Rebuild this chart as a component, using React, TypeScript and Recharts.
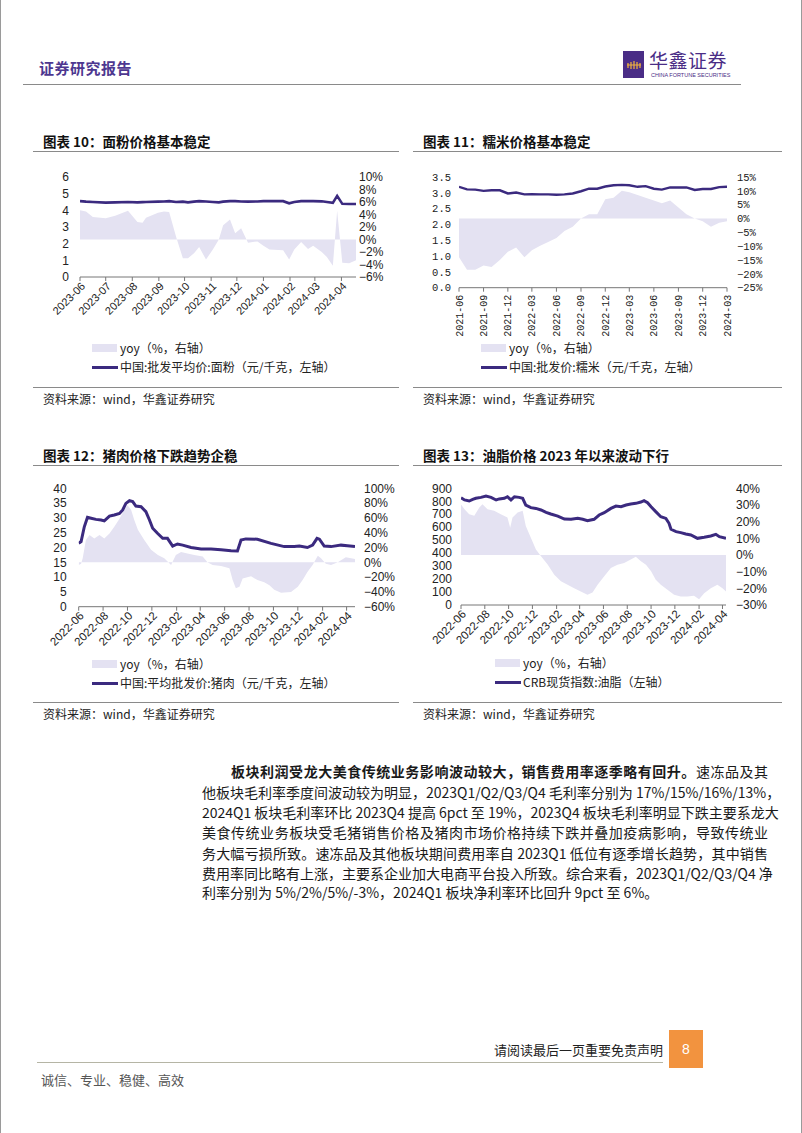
import React from "react";
import { ComposedChart, Area, Line, XAxis, YAxis } from "recharts";

// ---------- 图表10 面粉 ----------
const flourDates = [
  "2023-06-01", "2023-06-08", "2023-06-16", "2023-07-01", "2023-07-12", "2023-07-27",
  "2023-08-07", "2023-08-13", "2023-08-17", "2023-08-31", "2023-09-07", "2023-09-13",
  "2023-09-21", "2023-09-29", "2023-10-05", "2023-10-12", "2023-10-18", "2023-10-26",
  "2023-11-03", "2023-11-10", "2023-11-15", "2023-11-23", "2023-11-29", "2023-12-06",
  "2023-12-14", "2023-12-25", "2024-01-01", "2024-01-08", "2024-01-24", "2024-01-31",
  "2024-02-06", "2024-02-14", "2024-02-22", "2024-02-28", "2024-03-09", "2024-03-15",
  "2024-03-22", "2024-03-27", "2024-04-02", "2024-04-10", "2024-04-18",
];
const flourPrice = [
  4.55, 4.52, 4.5, 4.46, 4.48, 4.5, 4.48, 4.49, 4.5, 4.52, 4.53, 4.55, 4.5, 4.52, 4.48,
  4.52, 4.55, 4.53, 4.5, 4.48, 4.52, 4.55, 4.55, 4.53, 4.52, 4.53, 4.55, 4.55, 4.55, 4.42,
  4.5, 4.55, 4.55, 4.55, 4.54, 4.5, 4.45, 4.87, 4.39, 4.38, 4.38,
];
const flourYoy = [
  4.7, 4.5, 3.6, 3.4, 3.8, 4.6, 2.8, 2.7, 3.5, 4.3, 4.5, 4.4, 0.5, -3.0, -3.0, -2.2, -1.2,
  -3.2, -1.6, 0.0, 2.3, 3.2, 1.0, 1.8, -0.5, -0.3, -1.0, -1.6, -1.7, -3.2, -1.6, -0.4,
  -1.5, -1.0, -2.0, -2.8, -4.2, 4.6, -3.7, -3.8, -3.3,
];
const flourTicks = [
  "2023-06", "2023-07", "2023-08", "2023-09", "2023-10", "2023-11", "2023-12",
  "2024-01", "2024-02", "2024-03", "2024-04",
];

// ---------- 图表11 糯米 (月度) ----------
const riceMonths = [
  "2021-06", "2021-07", "2021-08", "2021-09", "2021-10", "2021-11", "2021-12",
  "2022-01", "2022-02", "2022-03", "2022-04", "2022-05", "2022-06", "2022-07",
  "2022-08", "2022-09", "2022-10", "2022-11", "2022-12", "2023-01", "2023-02",
  "2023-03", "2023-04", "2023-05", "2023-06", "2023-07", "2023-08", "2023-09",
  "2023-10", "2023-11", "2023-12", "2024-01", "2024-02", "2024-03",
];
const ricePrice = [
  3.19, 3.11, 3.1, 3.06, 3.08, 3.08, 2.98, 3.01, 2.95, 2.96, 2.95, 2.95, 2.94, 2.95,
  2.98, 3.05, 3.13, 3.13, 3.2, 3.24, 3.25, 3.24, 3.19, 3.21, 3.13, 3.1, 3.17, 3.17,
  3.17, 3.09, 3.12, 3.12, 3.18, 3.19,
];
const riceYoy = [
  -14, -18.5, -18.5, -17, -17.5, -15, -12, -10.5, -14, -11.5, -9.8, -8.5, -7, -4.5,
  -3, 0, 1.5, 1.5, 7, 7.5, 10, 9.5, 8.5, 7.5, 6.5, 5.5, 6.5, 4, 1.5, 0, -1, -3, -1.5, -1,
];
const riceTicks = [
  "2021-06", "2021-09", "2021-12", "2022-03", "2022-06", "2022-09", "2022-12",
  "2023-03", "2023-06", "2023-09", "2023-12", "2024-03",
];

// ---------- 图表12 猪肉 ----------
const porkPriceDates = [
  "2022-06-01", "2022-06-07", "2022-06-15", "2022-06-23", "2022-07-02", "2022-07-14",
  "2022-07-27", "2022-08-04", "2022-08-17", "2022-08-29", "2022-09-11", "2022-09-19",
  "2022-09-27", "2022-10-06", "2022-10-14", "2022-10-22", "2022-11-04", "2022-11-16",
  "2022-11-25", "2022-12-03", "2022-12-15", "2022-12-28", "2023-01-09", "2023-01-22",
  "2023-02-03", "2023-02-16", "2023-03-09", "2023-04-03", "2023-04-28", "2023-05-23",
  "2023-06-17", "2023-07-03", "2023-07-12", "2023-07-24", "2023-08-22", "2023-09-25",
  "2023-10-28", "2023-11-22", "2023-12-05", "2023-12-25", "2024-01-07", "2024-01-18",
  "2024-01-24", "2024-02-05", "2024-02-22", "2024-03-18", "2024-04-03", "2024-04-22",
];
const porkPrice = [
  21.4, 22.0, 27.0, 30.2, 29.9, 29.5, 29.3, 29.0, 30.6, 31.0, 31.5, 32.7, 34.9, 35.8,
  35.5, 34.0, 33.8, 32.1, 29.3, 26.5, 24.8, 23.1, 23.1, 20.5, 21.2, 20.8, 20.0, 19.5,
  19.5, 19.2, 18.9, 18.8, 22.5, 22.9, 22.8, 21.4, 20.3, 20.3, 20.5, 20.0, 20.8, 23.1,
  22.8, 20.5, 20.3, 20.8, 20.6, 20.3,
];
const porkYoyDates = [
  "2022-06-01", "2022-06-07", "2022-06-11", "2022-06-19", "2022-06-28", "2022-07-10",
  "2022-07-23", "2022-08-04", "2022-08-17", "2022-08-29", "2022-09-11", "2022-09-23",
  "2022-10-01", "2022-10-10", "2022-10-18", "2022-10-27", "2022-11-12", "2022-11-29",
  "2022-12-16", "2023-01-01", "2023-01-18", "2023-01-30", "2023-02-12", "2023-02-28",
  "2023-03-17", "2023-04-07", "2023-04-19", "2023-05-02", "2023-05-23", "2023-06-13",
  "2023-06-21", "2023-06-29", "2023-07-08", "2023-07-16", "2023-08-06", "2023-08-22",
  "2023-09-08", "2023-09-21", "2023-10-03", "2023-10-20", "2023-11-14", "2023-12-01",
  "2023-12-13", "2023-12-25", "2024-01-07", "2024-01-20", "2024-01-28", "2024-02-09",
  "2024-02-22", "2024-03-10", "2024-03-30", "2024-04-22",
];
const porkYoy = [
  -3.6, -2, 5.4, 30, 37, 32, 37, 32, 39, 48, 59, 71, 77, 71, 57, 44, 30, 17, 10, 5.4,
  -3.6, 10, 14, 12, 10, 7.7, 0, -3.6, -5, -8, -24, -35, -33, -22, -19, -24, -27, -31,
  -37, -41, -40, -33, -24, -13, -3.6, 9, 5.4, -2, -3.6, 0, 6.8, 4.5,
];
const porkTicks = [
  "2022-06", "2022-08", "2022-10", "2022-12", "2023-02", "2023-04", "2023-06",
  "2023-08", "2023-10", "2023-12", "2024-02", "2024-04",
];

// ---------- 图表13 油脂 ----------
const oilPriceDates = [
  "2022-06-01", "2022-06-10", "2022-06-22", "2022-07-01", "2022-07-09", "2022-07-22",
  "2022-08-04", "2022-08-17", "2022-08-30", "2022-09-07", "2022-09-20", "2022-09-28",
  "2022-10-07", "2022-10-16", "2022-10-28", "2022-11-06", "2022-11-14", "2022-11-27",
  "2022-12-10", "2022-12-23", "2023-01-05", "2023-01-17", "2023-02-04", "2023-02-21",
  "2023-03-10", "2023-03-27", "2023-04-09", "2023-04-21", "2023-05-08", "2023-05-21",
  "2023-06-03", "2023-06-20", "2023-07-03", "2023-07-16", "2023-07-29", "2023-08-10",
  "2023-08-23", "2023-09-05", "2023-09-13", "2023-09-22", "2023-10-01", "2023-10-13",
  "2023-10-26", "2023-11-08", "2023-11-16", "2023-11-21", "2023-12-04", "2023-12-16",
  "2023-12-29", "2024-01-11", "2024-01-28", "2024-02-14", "2024-03-02", "2024-03-15",
  "2024-03-24", "2024-04-10",
];
const oilPrice = [
  828, 810, 802, 815, 823, 830, 840, 830, 810, 818, 823, 835, 810, 835, 830, 823, 771,
  751, 745, 733, 715, 702, 686, 663, 661, 668, 661, 650, 661, 694, 712, 745, 763, 758,
  771, 779, 784, 794, 805, 789, 758, 720, 681, 668, 630, 584, 566, 558, 548, 540, 514,
  522, 532, 545, 527, 514,
];
const oilYoyDates = [
  "2022-06-01", "2022-06-10", "2022-06-22", "2022-07-05", "2022-07-18", "2022-07-26",
  "2022-08-08", "2022-08-25", "2022-09-11", "2022-09-28", "2022-10-05", "2022-10-11",
  "2022-10-24", "2022-11-06", "2022-11-14", "2022-11-27", "2022-12-10", "2022-12-23",
  "2023-01-09", "2023-01-26", "2023-02-12", "2023-03-01", "2023-03-18", "2023-04-04",
  "2023-04-21", "2023-05-04", "2023-05-17", "2023-06-03", "2023-06-20", "2023-07-07",
  "2023-07-24", "2023-08-10", "2023-08-23", "2023-09-05", "2023-09-18", "2023-10-01",
  "2023-10-13", "2023-10-26", "2023-11-12", "2023-11-29", "2023-12-16", "2024-01-02",
  "2024-01-19", "2024-02-01", "2024-02-14", "2024-03-02", "2024-03-19", "2024-04-01",
  "2024-04-10",
];
const oilYoy = [
  30.3, 27.5, 24.5, 23.5, 28.5, 30.5, 27.5, 26.5, 24.5, 22.5, 16.4, 22.5, 25.5, 26.5,
  17.4, 10.4, 3.3, -0.7, -5.7, -11.8, -15.8, -17.9, -19.9, -21.9, -23.9, -22.5, -17.9,
  -12.8, -7.8, -5.8, -4.8, -2.7, -1.1, -3.8, -5.8, -9.8, -14.8, -17.9, -20.9, -23.9,
  -24.9, -24.9, -24.5, -26.5, -22.9, -19.9, -17.9, -19.9, -21.9,
];
const oilTicks = porkTicks;

const PURPLE = "#3b2a7f";
const LAVENDER = "#e4e2f2";
const SANS = "'Liberation Sans', Arial, sans-serif";
const MONO = "'Liberation Mono', 'DejaVu Sans Mono', monospace";
const CJK = "'Noto Sans CJK SC', sans-serif";

const day = (s: string) =>
  Date.parse((s.length === 7 ? s + "-01" : s) + "T00:00:00Z") / 86400000;

const monthLabel = (t: number) => new Date(t * 86400000).toISOString().slice(0, 7);

const pct = (v: number) => (v < 0 ? "\u2212" + Math.abs(v) : String(v)) + "%";

const merge = (pd: string[], pv: number[], yd: string[], yv: number[]) => {
  const rows: Record<number, any> = {};
  pd.forEach((d, i) => {
    const t = day(d);
    rows[t] = { ...(rows[t] || { t }), price: pv[i] };
  });
  yd.forEach((d, i) => {
    const t = day(d);
    rows[t] = { ...(rows[t] || { t }), yoy: yv[i] };
  });
  return Object.values(rows).sort((a: any, b: any) => a.t - b.t);
};

const DiagTick = ({ x, y, payload, size }: any) => (
  <g transform={`translate(${x + 3},${y + 1})`}>
    <text
      textAnchor="end"
      transform="rotate(-45)"
      fontSize={size}
      fontFamily={SANS}
      fill="#222"
      dy={4}
    >
      {monthLabel(payload.value)}
    </text>
  </g>
);

const VertTick = ({ x, y, payload }: any) => (
  <g transform={`translate(${x},${y + 1})`}>
    <text
      textAnchor="end"
      transform="rotate(-90)"
      fontSize={10}
      fontFamily={MONO}
      fill="#222"
      dy={3.5}
    >
      {monthLabel(payload.value)}
    </text>
  </g>
);

const DualChart = ({ g, data, xDomain, xTicks, left, right, vertical, lineWidth }: any) => {
  const tickFont = vertical ? MONO : SANS;
  const tickSize = vertical ? 10.5 : 12;
  return (
    <div style={{ position: "absolute", left: g.x, top: g.y }}>
      <ComposedChart
        width={g.w}
        height={g.h}
        data={data}
        margin={{ top: g.top, right: 0, left: 0, bottom: 0 }}
      >
        <XAxis
          dataKey="t"
          type="number"
          domain={xDomain}
          ticks={xTicks}
          interval={0}
          allowDataOverflow
          height={g.xh}
          stroke="#777"
          tickSize={4}
          tickMargin={2}
          tick={(p: any) =>
            vertical ? <VertTick {...p} /> : <DiagTick {...p} size={g.xfont} />
          }
        />
        <YAxis
          yAxisId="left"
          domain={left.domain}
          ticks={left.ticks}
          interval={0}
          tickFormatter={left.fmt}
          width={g.lw}
          axisLine={false}
          tickLine={false}
          tickSize={0}
          tickMargin={g.lgap}
          allowDataOverflow
          tick={{ fontSize: tickSize, fontFamily: tickFont, fill: "#222" }}
        />
        <YAxis
          yAxisId="right"
          orientation="right"
          domain={right.domain}
          ticks={right.ticks}
          interval={0}
          tickFormatter={pct}
          width={g.rw}
          axisLine={false}
          tickLine={false}
          tickSize={0}
          tickMargin={g.rgap}
          allowDataOverflow
          tick={{ fontSize: tickSize, fontFamily: tickFont, fill: "#222", textAnchor: "start" }}
        />
        <Area
          yAxisId="right"
          dataKey="yoy"
          type="linear"
          baseValue={0}
          fill={LAVENDER}
          fillOpacity={1}
          stroke="none"
          connectNulls
          isAnimationActive={false}
        />
        <Line
          yAxisId="left"
          dataKey="price"
          type="linear"
          stroke={PURPLE}
          strokeWidth={lineWidth}
          dot={false}
          connectNulls
          isAnimationActive={false}
        />
      </ComposedChart>
    </div>
  );
};

const Title = ({ x, y, w, text }: any) => (
  <>
    <div
      style={{
        position: "absolute",
        left: x + 10,
        top: y,
        fontFamily: CJK,
        fontWeight: 700,
        fontSize: 13.5,
        lineHeight: "16px",
        color: "#111",
        whiteSpace: "nowrap",
      }}
    >
      {text}
    </div>
    <div
      style={{
        position: "absolute",
        left: x,
        top: y + 18,
        width: w,
        height: 1,
        background: "#8a8a8a",
      }}
    />
  </>
);

const ChartLegend = ({ x, y, gap, lineText }: any) => {
  const label: any = {
    position: "absolute",
    left: x + 28,
    fontFamily: CJK,
    fontSize: 12,
    lineHeight: "14px",
    color: "#222",
    whiteSpace: "nowrap",
  };
  return (
    <>
      <div style={{ position: "absolute", left: x, top: y - 4, width: 25, height: 8, background: LAVENDER }} />
      <div style={{ ...label, top: y - 7 }}>yoy（%，右轴）</div>
      <div style={{ position: "absolute", left: x, top: y + gap - 1.5, width: 26, height: 3, background: PURPLE }} />
      <div style={{ ...label, top: y + gap - 7 }}>{lineText}</div>
    </>
  );
};

const Source = ({ x, y, w }: any) => (
  <>
    <div style={{ position: "absolute", left: x, top: y, width: w, height: 1, background: "#8a8a8a" }} />
    <div
      style={{
        position: "absolute",
        left: x + 10,
        top: y + 5,
        fontFamily: CJK,
        fontSize: 12,
        lineHeight: "14px",
        color: "#222",
        whiteSpace: "nowrap",
      }}
    >
      资料来源：wind，华鑫证券研究
    </div>
  </>
);

const paraLines = [
  "他板块毛利率季度间波动较为明显，2023Q1/Q2/Q3/Q4 毛利率分别为 17%/15%/16%/13%，",
  "2024Q1 板块毛利率环比 2023Q4 提高 6pct 至 19%，2023Q4 板块毛利率明显下跌主要系龙大",
  "美食传统业务板块受毛猪销售价格及猪肉市场价格持续下跌并叠加疫病影响，导致传统业",
  "务大幅亏损所致。速冻品及其他板块期间费用率自 2023Q1 低位有逐季增长趋势，其中销售",
  "费用率同比略有上涨，主要系企业加大电商平台投入所致。综合来看，2023Q1/Q2/Q3/Q4 净",
];

const App = () => {
  const flourData = merge(flourDates, flourPrice, flourDates, flourYoy);
  const riceData = merge(riceMonths, ricePrice, riceMonths, riceYoy);
  const porkData = merge(porkPriceDates, porkPrice, porkYoyDates, porkYoy);
  const oilData = merge(oilPriceDates, oilPrice, oilYoyDates, oilYoy);

  const paraStyle: any = {
    position: "absolute",
    fontFamily: CJK,
    fontSize: 14,
    lineHeight: "20px",
    height: 20,
    color: "#1a1a1a",
    whiteSpace: "nowrap",
  };

  return (
    <div
      style={{
        position: "absolute",
        left: 0,
        top: 0,
        width: 802,
        height: 1133,
        background: "#fff",
        overflow: "hidden",
        borderLeft: "1px solid #9a9a9a",
        borderRight: "1px solid #9a9a9a",
        boxSizing: "border-box",
      }}
    >
      {/* header */}
      <div
        style={{
          position: "absolute",
          left: 38,
          top: 59,
          fontFamily: CJK,
          fontWeight: 700,
          fontSize: 15,
          lineHeight: "18px",
          color: "#4d3790",
          letterSpacing: 0.5,
        }}
      >
        证券研究报告
      </div>
      <svg style={{ position: "absolute", left: 622, top: 51 }} width={22} height={27}>
        <rect x={0} y={0} width={21} height={27} fill="#4a2d86" />
        <path d="M5 12 L5 17 M8 11 L8 18 M11 10 L11 18 M14 11 L14 18 M17 12 L17 17 M4 14 L18 14" stroke="#f3b43c" strokeWidth={1.2} />
      </svg>
      <div
        style={{
          position: "absolute",
          left: 648,
          top: 50,
          fontFamily: CJK,
          fontSize: 19,
          lineHeight: "19px",
          color: "#4a2d86",
          letterSpacing: 0.5,
        }}
      >
        华鑫证券
      </div>
      <div
        style={{
          position: "absolute",
          left: 650,
          top: 72,
          fontFamily: SANS,
          fontSize: 5.5,
          lineHeight: "6px",
          color: "#4a2d86",
          whiteSpace: "nowrap",
        }}
      >
        CHINA FORTUNE SECURITIES
      </div>
      <div style={{ position: "absolute", left: 22, top: 84, width: 718, height: 1, background: "#8a8a8a" }} />

      {/* 图表10 */}
      <Title x={32} y={133} w={366} text="图表 10：面粉价格基本稳定" />
      <DualChart
        g={{ x: 30, y: 160, w: 370, h: 180, top: 17, lw: 49, rw: 45, xh: 63, lgap: 11, rgap: 3, xfont: 11 }}
        data={flourData}
        xDomain={[day("2023-06-01"), day("2024-04-18")]}
        xTicks={flourTicks.map(day)}
        left={{ domain: [0, 6], ticks: [0, 1, 2, 3, 4, 5, 6], fmt: (v: number) => String(v) }}
        right={{ domain: [-6, 10], ticks: [-6, -4, -2, 0, 2, 4, 6, 8, 10] }}
        lineWidth={2.6}
      />
      <ChartLegend x={91} y={348} gap={19} lineText="中国:批发平均价:面粉（元/千克，左轴）" />
      <Source x={32} y={387} w={366} />

      {/* 图表11 */}
      <Title x={412} y={133} w={369} text="图表 11：糯米价格基本稳定" />
      <DualChart
        g={{ x: 410, y: 160, w: 370, h: 180, top: 17, lw: 48, rw: 54, xh: 52.3, lgap: 8, rgap: 10 }}
        data={riceData}
        xDomain={[day("2021-06-01"), day("2024-03-01")]}
        xTicks={riceTicks.map(day)}
        left={{ domain: [0, 3.5], ticks: [0, 0.5, 1, 1.5, 2, 2.5, 3, 3.5], fmt: (v: number) => v.toFixed(1) }}
        right={{ domain: [-25, 15], ticks: [-25, -20, -15, -10, -5, 0, 5, 10, 15] }}
        vertical
        lineWidth={2.4}
      />
      <ChartLegend x={480} y={348} gap={19} lineText="中国:批发价:糯米（元/千克，左轴）" />
      <Source x={412} y={387} w={369} />

      {/* 图表12 */}
      <Title x={32} y={447} w={366} text="图表 12：猪肉价格下跌趋势企稳" />
      <DualChart
        g={{ x: 30, y: 470, w: 370, h: 185, top: 18.3, lw: 47.7, rw: 46, xh: 48.3, lgap: 12, rgap: 9, xfont: 11.5 }}
        data={porkData}
        xDomain={[day("2022-06-01"), day("2024-04-22")]}
        xTicks={porkTicks.map(day)}
        left={{ domain: [0, 40], ticks: [0, 5, 10, 15, 20, 25, 30, 35, 40], fmt: (v: number) => String(v) }}
        right={{ domain: [-60, 100], ticks: [-60, -40, -20, 0, 20, 40, 60, 80, 100] }}
        lineWidth={3}
      />
      <ChartLegend x={91} y={664} gap={19} lineText="中国:平均批发价:猪肉（元/千克，左轴）" />
      <Source x={32} y={702} w={366} />

      {/* 图表13 */}
      <Title x={412} y={447} w={369} text="图表 13：油脂价格 2023 年以来波动下行" />
      <DualChart
        g={{ x: 410, y: 470, w: 370, h: 185, top: 18.3, lw: 50, rw: 55, xh: 50, lgap: 9, rgap: 10, xfont: 11.5 }}
        data={oilData}
        xDomain={[day("2022-06-01"), day("2024-04-10")]}
        xTicks={oilTicks.map(day)}
        left={{ domain: [0, 900], ticks: [0, 100, 200, 300, 400, 500, 600, 700, 800, 900], fmt: (v: number) => String(v) }}
        right={{ domain: [-30, 40], ticks: [-30, -20, -10, 0, 10, 20, 30, 40] }}
        lineWidth={3}
      />
      <ChartLegend x={494} y={663} gap={19} lineText="CRB现货指数:油脂（左轴）" />
      <Source x={412} y={702} w={369} />

      {/* 正文 */}
      <div style={{ ...paraStyle, left: 230, top: 761, width: 537, textAlign: "justify", textAlignLast: "justify" }}>
        <b>板块利润受龙大美食传统业务影响波动较大，销售费用率逐季略有回升。</b>速冻品及其
      </div>
      {paraLines.map((l, i) => (
        <div
          key={i}
          style={{ ...paraStyle, left: 201, top: 782 + i * 20.2, width: 566, textAlign: "justify", textAlignLast: "justify" }}
        >
          {l}
        </div>
      ))}
      <div style={{ ...paraStyle, left: 201, top: 882 }}>
        利率分别为 5%/2%/5%/-3%，2024Q1 板块净利率环比回升 9pct 至 6%。
      </div>

      {/* footer */}
      <div
        style={{
          position: "absolute",
          left: 400,
          width: 262,
          top: 1042,
          textAlign: "right",
          fontFamily: CJK,
          fontSize: 13,
          lineHeight: "16px",
          color: "#222",
        }}
      >
        请阅读最后一页重要免责声明
      </div>
      <div style={{ position: "absolute", left: 36, top: 1062, width: 626, height: 1, background: "#b5b5a5" }} />
      <div
        style={{
          position: "absolute",
          left: 668,
          top: 1030,
          width: 34,
          height: 38,
          background: "#f2933f",
          color: "#fff",
          fontFamily: SANS,
          fontSize: 14,
          lineHeight: "38px",
          textAlign: "center",
        }}
      >
        8
      </div>
      <div
        style={{
          position: "absolute",
          left: 40,
          top: 1072,
          fontFamily: CJK,
          fontSize: 13,
          lineHeight: "16px",
          color: "#555",
        }}
      >
        诚信、专业、稳健、高效
      </div>
    </div>
  );
};

export default App;
